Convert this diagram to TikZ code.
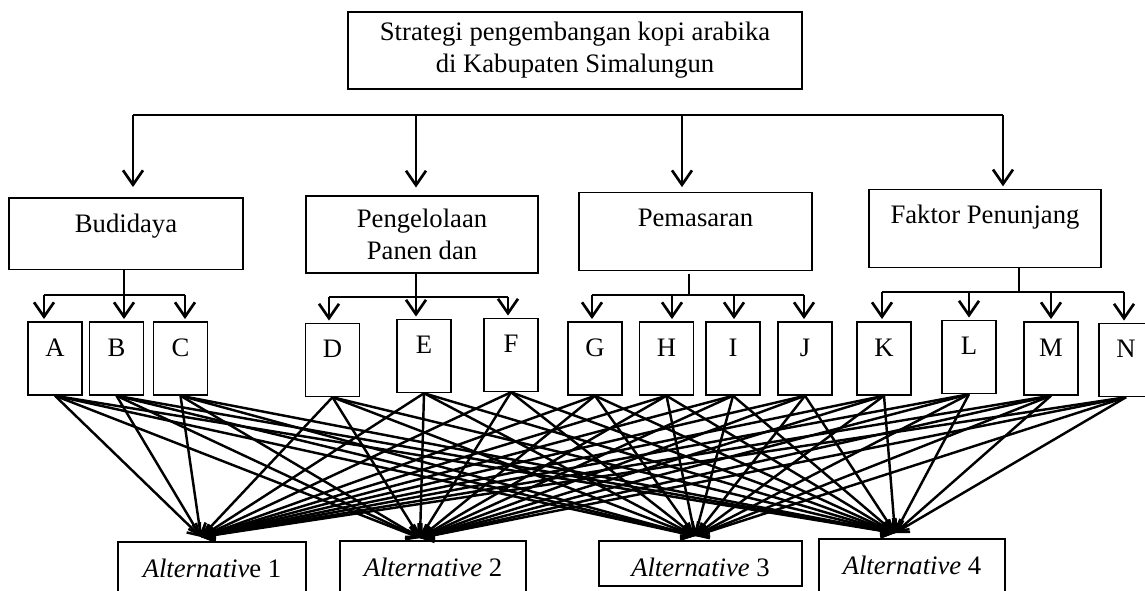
\documentclass[tikz,border=0pt]{standalone}
\usepackage{fontspec}
\setmainfont{Liberation Serif}
\usetikzlibrary{arrows.meta}

\begin{document}
\begin{tikzpicture}[
  x=0.45pt, y=-0.45pt,
  font=\fontsize{12pt}{14.4pt}\selectfont,
  cell/.style={draw,line width=0.65pt,inner sep=0pt},
  catbox/.style={cell,minimum width=104.4pt,text height=15.5pt},
  letbox/.style={cell,minimum width=24.3pt,text height=15.3pt,text depth=17.55pt},
  altbox/.style={cell,text height=15.75pt,text depth=9.9pt},
  wire/.style={line width=1.2pt},
  arr/.style={wire,-{Straight Barb[length=6.5pt,width=9pt]},shorten >=1pt},
  spoke/.style={line width=1.1pt,-{Straight Barb[length=5pt,width=6pt]}},
]
  \useasboundingbox (0,0) rectangle (1145,590);

  % Goal
  \node[cell,minimum width=204.3pt,minimum height=34.65pt,align=center] (goal) at (575,50.5)
    {Strategi pengembangan kopi arabika\\di Kabupaten Simalungun};

  % Criteria
  \node[catbox,text depth=16.65pt,minimum width=105.3pt] (bud) at (126,233.5) {Budidaya};
  \node[cell,minimum width=104.4pt,minimum height=34.65pt,align=center] (pen) at (422,234.5)
    {Pengelolaan\\Panen dan};
  \node[catbox,text depth=19.8pt,minimum width=104.85pt] (pem) at (695.5,231.5) {Pemasaran};
  \node[catbox,text depth=19.8pt] (fak) at (985,228.5) {Faktor Penunjang};

  % Sub-criteria
  \node[letbox] (A) at (55,358.5)    {A};
  \node[letbox] (B) at (116.5,358.5) {B};
  \node[letbox] (C) at (180.5,358.5) {C};
  \node[letbox] (D) at (332.5,360)   {D};
  \node[letbox] (E) at (424,356)     {E};
  \node[letbox] (F) at (511,355)     {F};
  \node[letbox] (G) at (595,358.5)   {G};
  \node[letbox] (H) at (666.5,358.5) {H};
  \node[letbox] (I) at (733,358.5)   {I};
  \node[letbox] (J) at (805,358.5)   {J};
  \node[letbox] (K) at (884,358.5)   {K};
  \node[letbox] (L) at (969,357)     {L};
  \node[letbox] (M) at (1051,358.5)  {M};
  \node[letbox] (N) at (1126,360)    {N};

  % Alternatives
  \node[altbox,minimum width=84.6pt]  (alt1) at (212,570.5) {\textit{Alternativ}e 1};
  \node[altbox,minimum width=83.7pt]  (alt2) at (433,569.5) {\textit{Alternative} 2};
  \node[altbox,minimum width=91.35pt,text depth=4.5pt] (alt3) at (700.5,563.5) {\textit{Alternative} 3};
  \node[altbox,minimum width=83.7pt]  (alt4) at (912,567.5) {\textit{Alternative} 4};

  % Top bus
  \coordinate (b1) at (133,115);
  \coordinate (b2) at (416,115);
  \coordinate (b3) at (682,115);
  \coordinate (b4) at (1003,115);
  \draw[wire] (b1) -- (b4);
  \draw[arr,shorten >=4.5pt] (b1) -- (b1 |- bud.north);
  \draw[arr,shorten >=3.5pt] (b2) -- (b2 |- pen.north);
  \draw[arr,shorten >=2pt]   (b3) -- (b3 |- pem.north);
  \draw[arr]                 (b4) -- (b4 |- fak.north);

  % Budidaya branch
  \coordinate (ja) at (44,295);
  \coordinate (jb) at (124,295);
  \coordinate (jc) at (185,295);
  \draw[wire] (jb |- bud.south) -- (jb);
  \draw[wire] (ja) -- (jc);
  \draw[arr] (ja) -- (ja |- A.north);
  \draw[arr] (jb) -- (jb |- B.north);
  \draw[arr] (jc) -- (jc |- C.north);

  % Panen branch
  \coordinate (jd) at (329,297);
  \coordinate (je) at (416,297);
  \coordinate (jf) at (508,297);
  \draw[wire] (je |- pen.south) -- (je);
  \draw[wire] (jd) -- (jf);
  \draw[arr] (jd) -- (jd |- D.north);
  \draw[arr] (je) -- (je |- E.north);
  \draw[arr] (jf) -- (jf |- F.north);

  % Pemasaran branch
  \coordinate (jg) at (592,295);
  \coordinate (jh) at (672,295);
  \coordinate (ji) at (734,295);
  \coordinate (jj) at (804,295);
  \draw[wire] (689,274) -- (689,295);
  \draw[wire] (jg) -- (jj);
  \draw[arr] (jg) -- (jg |- G.north);
  \draw[arr] (jh) -- (jh |- H.north);
  \draw[arr] (ji) -- (ji |- I.north);
  \draw[arr] (jj) -- (jj |- J.north);

  % Penunjang branch
  \coordinate (jk) at (882,292);
  \coordinate (jl) at (969,292);
  \coordinate (jm) at (1051,292);
  \coordinate (jn) at (1124,292);
  \draw[wire] (1019,268) -- (1019,292);
  \draw[wire] (jk) -- (jn);
  \draw[arr] (jk) -- (jk |- K.north);
  \draw[arr] (jl) -- (jl |- L.north);
  \draw[arr] (jm) -- (jm |- M.north);
  \draw[arr] (jn) -- (jn |- N.north);

  % Every sub-criterion to every alternative
  \coordinate (t1) at (201,537);
  \coordinate (t2) at (420,538);
  \coordinate (t3) at (695,536);
  \coordinate (t4) at (895,533);
  \foreach \s in {A,B,C,D,E,F,G,H,I,J,K,L,M,N}
    \foreach \k in {1,2,3,4}
      \draw[spoke] (\s.south) -- (t\k);
\end{tikzpicture}
\end{document}
